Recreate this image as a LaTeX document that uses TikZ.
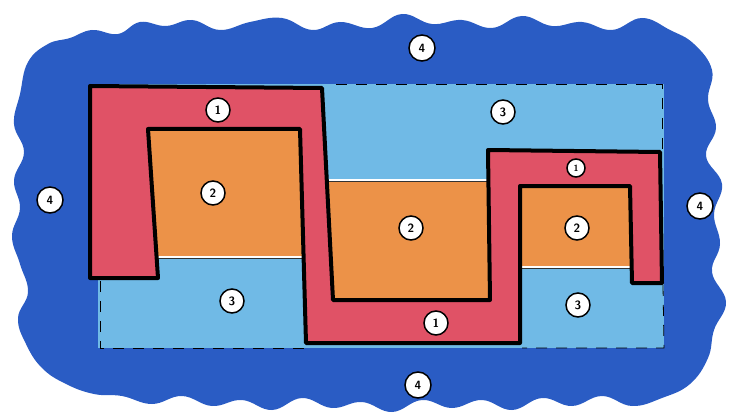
\documentclass[tikz,border=0pt]{standalone}
\usepackage{xcolor}
\definecolor{deepblue}{RGB}{42,92,196}
\definecolor{paleblue}{RGB}{112,186,230}
\definecolor{bandred}{RGB}{224,82,102}
\definecolor{clayorange}{RGB}{236,146,72}
\usepackage{tikz}
\usetikzlibrary{calc}

\begin{document}
\begin{tikzpicture}[x=1pt, y=-1pt,
  zone/.style={circle, draw=black, line width=1.5pt, fill=white, inner sep=1pt, minimum size=24pt, font=\sffamily\bfseries\large},
  wall/.style={draw=black, line width=4pt, line join=round},
  seam/.style={draw=black!80, double=white, double distance=1.6pt, line width=0.7pt},
  rim/.style={draw=black, line width=0.8pt, dash pattern=on 11pt off 9pt}
]

\useasboundingbox (0,0) rectangle (732,420);

% Outer cloud (4)
\fill[deepblue] plot[smooth cycle, tension=0.7] coordinates {
  (28,62) (48,44) (70,38) (92,30) (118,34) (140,22) (166,26) (192,20)
  (220,30) (250,22) (282,18) (312,30) (340,22) (372,28) (402,14)
  (432,24) (462,20) (492,28) (522,16) (552,26) (582,22) (612,30)
  (642,18) (670,30) (694,44) (712,70) (708,100) (716,128) (706,156)
  (722,184) (714,214) (720,244) (712,272) (726,302) (714,330) (708,358)
  (690,384) (662,398) (632,406) (602,396) (572,406) (542,398) (512,410)
  (482,400) (452,408) (422,400) (392,412) (362,402) (332,408) (302,398)
  (272,410) (242,400) (212,406) (182,396) (152,404) (122,396) (94,394)
  (66,384) (42,368) (26,344) (18,318) (28,292) (20,264) (12,236)
  (20,208) (14,180) (24,152) (14,124) (20,94)};

% Inner field (3)
\fill[paleblue] (98,84) -- (664,84) -- (664,348) -- (98,348) -- cycle;

% Pools (2)
\fill[clayorange] (148,129) -- (300,129) -- (302,257) -- (157,257) -- cycle;
\fill[clayorange] (326,180) -- (489,180) -- (490,300) -- (333,300) -- cycle;
\fill[clayorange] (520,186) -- (630,186) -- (632,267) -- (520,267) -- cycle;

% Seams between pools and field
\draw[seam] (157,257) -- (302,257);
\draw[seam] (327,180) -- (489,180);
\draw[seam] (520,267) -- (632,267);

% Band (1)
\filldraw[fill=bandred, wall]
  (90,86) -- (322,88) -- (333,300) -- (490,300) -- (488,150) -- (660,152)
  -- (662,283) -- (632,283) -- (630,186) -- (520,186) -- (520,343)
  -- (306,343) -- (300,129) -- (148,129) -- (158,278) -- (90,278) -- cycle;

% Dashed rim of the field
\draw[rim] (336,84) -- (662,84) -- (662,150);
\draw[rim] (663,285) -- (664,348) -- (522,348);
\draw[rim] (304,348) -- (100,348) -- (100,281);

% Labels
\node[zone] (band1a) at (218,110) {1};
\node[zone, minimum size=18pt, font=\sffamily\bfseries\small] (band1b) at (576,168) {1};
\node[zone] (band1c) at (436,323) {1};
\node[zone] (pool2a) at (213,193) {2};
\node[zone] (pool2b) at (411,228) {2};
\node[zone] (pool2c) at (577,228) {2};
\node[zone] (field3a) at (503,112) {3};
\node[zone] (field3b) at (232,301) {3};
\node[zone] (field3c) at (578,305) {3};
\node[zone, minimum size=26pt] (cloud4a) at (422,48) {4};
\node[zone, minimum size=26pt] (cloud4b) at (50,200) {4};
\node[zone, minimum size=26pt] (cloud4c) at (700,206) {4};
\node[zone, minimum size=26pt] (cloud4d) at (418,385) {4};

\end{tikzpicture}
\end{document}
